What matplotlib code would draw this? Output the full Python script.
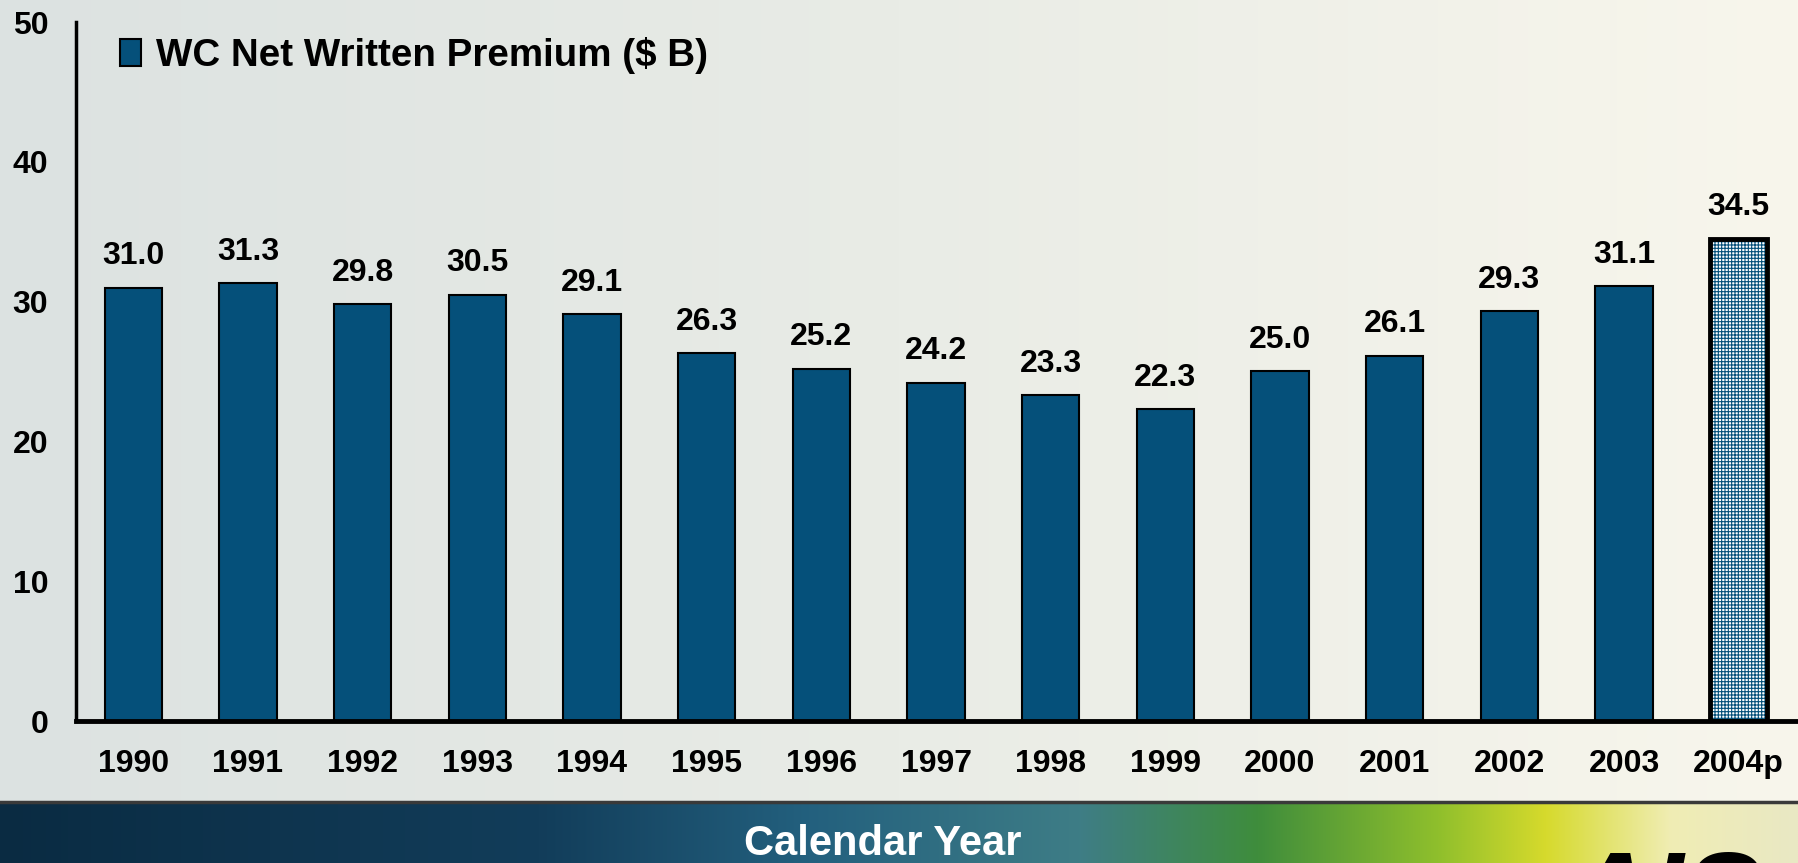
import numpy as np
import matplotlib
matplotlib.use("Agg")
import matplotlib.pyplot as plt
from matplotlib.colors import to_rgb

# ------------------------
# Data
# ------------------------
years = ["1990", "1991", "1992", "1993", "1994", "1995", "1996", "1997",
         "1998", "1999", "2000", "2001", "2002", "2003", "2004p"]
premium = [31.0, 31.3, 29.8, 30.5, 29.1, 26.3, 25.2, 24.2,
           23.3, 22.3, 25.0, 26.1, 29.3, 31.1, 34.5]
n_actual = 14   # last one is a projection

bar_blue = "#05507a"
plt.rcParams["font.family"] = ["Liberation Sans", "DejaVu Sans"]
plt.rcParams["font.weight"] = "bold"
plt.rcParams["hatch.linewidth"] = 0.8

fig = plt.figure(figsize=(17.98, 8.63), dpi=100)

# ------------------------
# Slide background
# ------------------------
W, H = 900, 432
band_row = int(H * 805 / 863)
img = np.zeros((H, W, 3))
xs = np.linspace(0, 1, W)

top_stops = [(0.0, "#dce2e1"), (0.5, "#e9ece6"), (1.0, "#f8f6ec")]
band_stops = [(0.0, "#0a2b42"), (0.3, "#123d5a"), (0.45, "#23607e"),
              (0.6, "#3e7d86"), (0.7, "#3f8d3c"), (0.8, "#8fbf2c"),
              (0.86, "#d6da2c"), (0.93, "#f0edb4"), (1.0, "#e9e8c4")]


def gradient(stops):
    pos = [s[0] for s in stops]
    cols = np.array([to_rgb(s[1]) for s in stops])
    return np.stack([np.interp(xs, pos, cols[:, k]) for k in range(3)], axis=1)


img[:band_row] = gradient(top_stops)
img[band_row:] = gradient(band_stops)

bg = fig.add_axes([0, 0, 1, 1], zorder=0)
bg.imshow(img, aspect="auto", interpolation="bilinear", extent=(0, 1, 0, 1))
bg.axhline((863 - 802) / 863, color="#3a3a3a", lw=2.5)
bg.set_xlim(0, 1)
bg.set_ylim(0, 1)
bg.axis("off")

fig.text(0.491, 0.009, "Calendar Year", color="white", fontsize=30,
         fontweight="bold", ha="center", va="baseline")
# company logo, cut off by the bottom edge as on the slide
fig.text(0.872, -0.082, "AIS", color="black", fontsize=84,
         fontweight="bold", style="italic", ha="left", va="baseline")

# ------------------------
# Chart
# ------------------------
ax = fig.add_axes([76 / 1798, 142 / 863, 1720 / 1798, 699 / 863], zorder=1)
ax.patch.set_alpha(0)

x = np.arange(len(years))
bars = ax.bar(x[:n_actual], premium[:n_actual], width=0.5, color=bar_blue,
              edgecolor="black", linewidth=1.5,
              label="WC Net Written Premium ($ B)")
ax.bar(x[n_actual:], premium[n_actual:], width=0.5, color="white",
       edgecolor=bar_blue, linewidth=0, hatch="+++++")
proj = ax.bar(x[n_actual:], premium[n_actual:], width=0.5, color="none",
              edgecolor="black", linewidth=3.5)

ax.bar_label(bars, fmt="%.1f", padding=12, fontsize=23, fontweight="bold")
ax.bar_label(proj, fmt="%.1f", padding=12, fontsize=23, fontweight="bold")

ax.set_xlim(-0.5, len(years) - 0.5)
ax.set_ylim(0, 50)
ax.set_yticks([0, 10, 20, 30, 40, 50])
ax.set_xticks(x)
ax.set_xticklabels(years)
ax.tick_params(axis="both", length=0, labelsize=23)
ax.tick_params(axis="x", pad=20)
ax.tick_params(axis="y", pad=20)

for side in ["top", "right"]:
    ax.spines[side].set_visible(False)
ax.spines["bottom"].set_linewidth(3.5)
ax.spines["left"].set_linewidth(2.5)

ax.legend(loc="upper left", bbox_to_anchor=(0.012, 1.012), frameon=False,
          fontsize=27.7, handlelength=0.55, handleheight=0.7,
          handletextpad=0.4, borderaxespad=0.2)

fig.savefig("out.png", dpi=100)
